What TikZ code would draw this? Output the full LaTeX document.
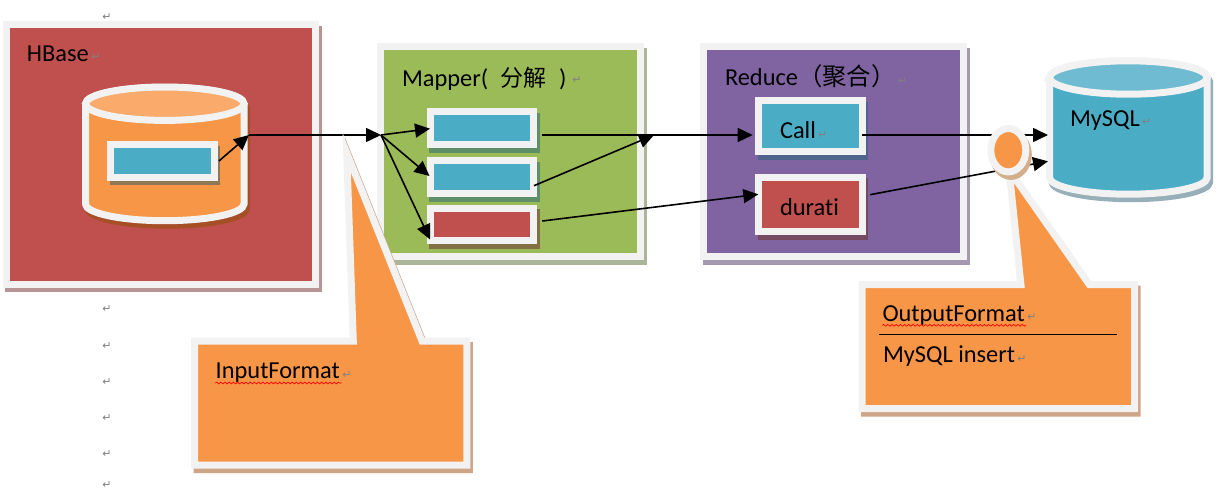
\documentclass[tikz,border=0pt]{standalone}
\usepackage{fontspec}
\setmainfont[RawFeature={-liga;-clig;-dlig}]{Carlito}
\newfontfamily\cjk{Noto Sans CJK SC}
\newfontfamily\markfont{DejaVu Sans}
\usetikzlibrary{arrows.meta,shapes.geometric,decorations.pathmorphing}
\definecolor{frameC}{HTML}{F2F2F2}
\definecolor{redC}{HTML}{C0504D}
\definecolor{greenC}{HTML}{9BBB59}
\definecolor{purpleC}{HTML}{8064A2}
\definecolor{blueC}{HTML}{4BACC6}
\definecolor{orangeC}{HTML}{F79646}
\definecolor{orangeTop}{HTML}{FAAB6B}
\definecolor{blueTop}{HTML}{6FBBD1}
\definecolor{shRed}{HTML}{B89595}
\definecolor{shGreen}{HTML}{ABB59A}
\definecolor{shPurple}{HTML}{A499AF}
\definecolor{shCylA}{HTML}{A64F27}
\definecolor{shCylB}{HTML}{96AFB8}
\definecolor{shRow}{HTML}{8E7755}
\definecolor{shBlueOnGreen}{HTML}{5F8F68}
\definecolor{shRedOnGreen}{HTML}{837144}
\definecolor{shBlueOnPurple}{HTML}{4E648C}
\definecolor{shRedOnPurple}{HTML}{744A63}
\definecolor{shCallout}{HTML}{CFA587}
\definecolor{shDot}{HTML}{D4AD8A}
\def\hbaseBody{(85.5,104) -- (85.5,204)
  arc[x radius=79.25pt,y radius=16.7pt,start angle=180,end angle=360] -- (244,104)
  arc[x radius=79.25pt,y radius=16.7pt,start angle=0,end angle=180] -- cycle}
\def\mysqlBody{(1049.5,77.5) -- (1049.5,177.5)
  arc[x radius=78.85pt,y radius=16.7pt,start angle=180,end angle=360] -- (1207.2,77.5)
  arc[x radius=78.85pt,y radius=16.7pt,start angle=0,end angle=180] -- cycle}
\def\calloutIn{(194.5,341.2) -- (353.3,341.2) -- (346.7,152.7) -- (422.1,341.2) -- (466.8,341.2) -- (466.8,465.2) -- (194.5,465.2) -- cycle}
\def\calloutOut{(862.2,284.5) -- (1020.9,284.5) -- (1009.1,170) -- (1089.3,284.5) -- (1134.5,284.5) -- (1134.5,408.5) -- (862.2,408.5) -- cycle}
\tikzset{
  x=1pt,y=-1pt,
  shadowed/.style={preaction={draw=#1,fill=#1,transform canvas={xshift=2.5pt,yshift=-4.5pt}}},
  panel/.style n args={2}{shadowed=#2,draw=frameC,fill=#1,line width=7pt,miter limit=30},
  bodypanel/.style={draw=frameC,fill=#1,line width=7pt,miter limit=30},
  bodyshadow/.style={draw=#1,fill=#1,line width=7pt,miter limit=30,xshift=2.5pt,yshift=-4.5pt},
  boxnode/.style={rectangle,inner sep=0pt,outer sep=0pt},
  conn/.style={draw=black,line width=1.6pt,-{Triangle[length=15pt,width=14pt]}},
  plainline/.style={draw=black,line width=1.4pt},
  label/.style={anchor=base west,inner sep=0pt,outer sep=0pt,font=\fontsize{24.4}{28}\selectfont,text=black},
  retmark/.style={inner sep=0pt,outer sep=0pt,font=\markfont\fontsize{11}{13}\selectfont,text=gray},
  wavy/.style={draw=red,line width=.7pt,decorate,decoration={snake,segment length=4.2pt,amplitude=.9pt}},
}
\begin{document}
\begin{tikzpicture}
\useasboundingbox (0,0) rectangle (1224,490);
% paragraph marks
\foreach \n/\px/\py in {a/107/17,b/107/309,c/107/346,d/107/382,e/107/418,f/107/454,g/107/485.5}
  \node[retmark] (mark\n) at (\px,\py) {↵};
% frames
\node[boxnode,panel={redC}{shRed},minimum width=309.5pt,minimum height=259.5pt] (hbase) at (160.75,154.25) {};
\node[boxnode,panel={greenC}{shGreen},minimum width=259.7pt,minimum height=209.7pt] (mapper) at (510.65,151.65) {};
\node[boxnode,panel={purpleC}{shPurple},minimum width=260pt,minimum height=209.7pt] (reduce) at (833.8,151.65) {};
% HBase cylinder
\path[bodyshadow=shCylA] \hbaseBody;
\path[bodypanel=orangeC] \hbaseBody;
\node[ellipse,inner sep=0pt,outer sep=0pt,draw=frameC,fill=orangeTop,line width=7pt,minimum width=158.5pt,minimum height=33.4pt] (hbasetop) at (164.75,103.7) {};
% MySQL cylinder
\path[bodyshadow=shCylB] \mysqlBody;
\path[bodypanel=blueC] \mysqlBody;
\node[ellipse,inner sep=0pt,outer sep=0pt,draw=frameC,fill=blueTop,line width=7pt,minimum width=157.7pt,minimum height=33.4pt] (mysqltop) at (1128.35,77.5) {};
% inner boxes
\node[boxnode,panel={blueC}{shRow},minimum width=103.5pt,minimum height=32.5pt] (hrow) at (162.25,160.75) {};
\node[boxnode,panel={blueC}{shBlueOnGreen},minimum width=103.3pt,minimum height=32.7pt] (m1) at (481.85,128.15) {};
\node[boxnode,panel={blueC}{shBlueOnGreen},minimum width=103.3pt,minimum height=32.7pt] (m2) at (481.85,177.15) {};
\node[boxnode,panel={redC}{shRedOnGreen},minimum width=103.3pt,minimum height=32.3pt] (m3) at (481.85,224.35) {};
\node[boxnode,panel={blueC}{shBlueOnPurple},minimum width=103.7pt,minimum height=51pt] (call) at (810.35,126.3) {};
\node[boxnode,panel={redC}{shRedOnPurple},minimum width=103.7pt,minimum height=54.6pt] (durati) at (810.35,204.5) {};
% connector ends
\coordinate (hout) at (219,161);
\coordinate (j1) at (249,135);
\coordinate (j2) at (381,135);
\coordinate (m1in) at (430,128.7);
\coordinate (m2in) at (429.5,176);
\coordinate (m3in) at (430,239.5);
\coordinate (m1out) at (542.3,135);
\coordinate (m2out) at (534,185.7);
\coordinate (j3) at (654,135);
\coordinate (m3out) at (542.3,221);
\coordinate (callin) at (752.7,135);
\coordinate (durin) at (758.3,194.3);
\coordinate (callout) at (862,135);
\coordinate (durout) at (870,194.7);
\coordinate (db1) at (1048,135);
\coordinate (db2) at (1048,161.3);
% connectors
\draw[conn] (hout) -- (j1);
\draw[conn] (j1) -- (j2);
\draw[conn] (j2) -- (m1in);
\draw[conn] (j2) -- (m2in);
\draw[conn] (j2) -- (m3in);
\draw[conn] (m1out) -- (callin);
\draw[conn] (m2out) -- (j3);
\draw[conn] (m3out) -- (durin);
\draw[conn] (callout) -- (db1);
\draw[conn] (durout) -- (db2);
% callouts
\path[bodyshadow=shCallout] \calloutIn;
\path[bodypanel=orangeC] \calloutIn;
\path[bodyshadow=shCallout] \calloutOut;
\path[bodypanel=orangeC] \calloutOut;
\node[ellipse,inner sep=0pt,outer sep=0pt,shadowed=shDot,draw=frameC,fill=orangeC,line width=7pt,minimum width=35pt,minimum height=43.4pt] (dot) at (1008.3,150.2) {};
\coordinate (ruleL) at (879.3,334.3);
\coordinate (ruleR) at (1116.7,334.3);
\draw[plainline,line width=1pt] (ruleL) -- (ruleR);
% labels
\node[label] (thbase) at (27,61.7) {HBase};
\node[label] (tmapper) at (402,86) {Mapper(\hspace{12.5pt}{\cjk\fontsize{23}{28}\selectfont 分解}\hspace{12.5pt})};
\node[label] (treduce) at (725,85) {Reduce{\cjk （聚合）}};
\node[label] (tcall) at (780,138.7) {Call};
\node[label] (tdurati) at (780,215) {durati};
\node[label] (tmysql) at (1070,126) {MySQL};
\node[label] (tinput) at (215.7,378) {InputFormat};
\node[label] (toutput) at (882.5,321.7) {OutputFormat};
\node[label] (tinsert) at (883,362.7) {MySQL insert};
% spell-check underlines
\coordinate (w1a) at (215.3,383);
\coordinate (w1b) at (341.7,383);
\coordinate (w2a) at (882.3,325.3);
\coordinate (w2b) at (1026,325.3);
\draw[wavy] (w1a) -- (w1b);
\draw[wavy] (w2a) -- (w2b);
% paragraph marks on top
\foreach \n/\px/\py in {h/96/57,i/577/80,j/902.7/80.7,k/822.7/135,l/1146.7/121.7,m/1032/317,o/1022/359,p/347/375}
  \node[retmark] (mark\n) at (\px,\py) {↵};
\end{tikzpicture}
\end{document}
